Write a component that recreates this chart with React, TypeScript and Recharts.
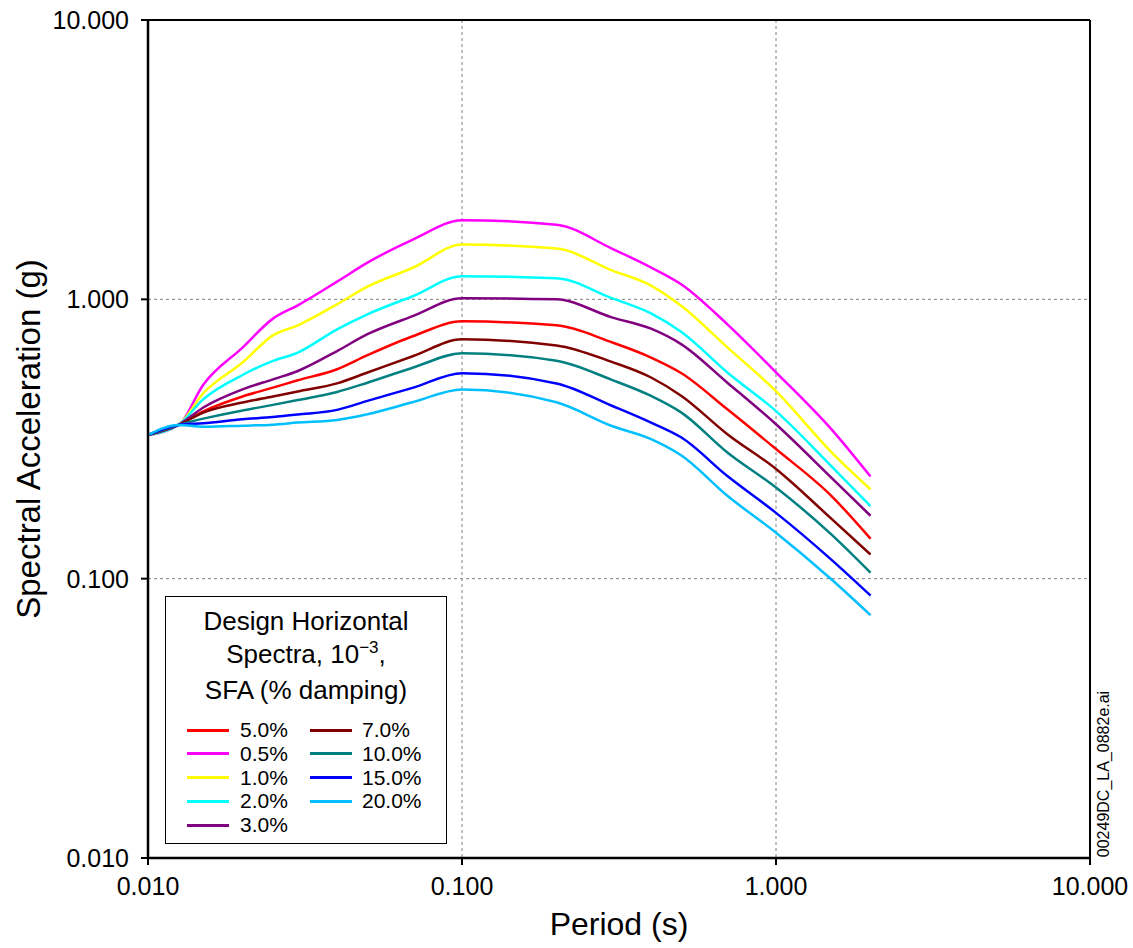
import React from 'react';
import { LineChart, Line, XAxis, YAxis, CartesianGrid, ReferenceLine } from 'recharts';

const periods = [0.01, 0.0125, 0.015, 0.02, 0.025, 0.03, 0.04, 0.05, 0.07, 0.1, 0.2, 0.3, 0.4, 0.5, 0.7, 1.0, 1.5, 2.0];

const damping5_0 = [0.327, 0.355, 0.397, 0.449, 0.483, 0.513, 0.562, 0.631, 0.739, 0.834, 0.807, 0.702, 0.619, 0.544, 0.404, 0.291, 0.198, 0.139];
const damping0_5 = [0.327, 0.354, 0.495, 0.672, 0.853, 0.952, 1.157, 1.353, 1.64, 1.92, 1.85, 1.52, 1.30, 1.13, 0.814, 0.548, 0.343, 0.232];
const damping1_0 = [0.327, 0.355, 0.461, 0.594, 0.743, 0.807, 0.96, 1.11, 1.30, 1.57, 1.52, 1.27, 1.12, 0.946, 0.673, 0.469, 0.284, 0.209];
const damping2_0 = [0.327, 0.355, 0.439, 0.536, 0.602, 0.645, 0.781, 0.884, 1.028, 1.21, 1.19, 1.01, 0.891, 0.764, 0.547, 0.398, 0.253, 0.182];
const damping3_0 = [0.327, 0.355, 0.41, 0.476, 0.517, 0.554, 0.653, 0.75, 0.872, 1.01, 1.0, 0.862, 0.785, 0.69, 0.503, 0.357, 0.23, 0.168];
const damping7_0 = [0.327, 0.355, 0.393, 0.427, 0.449, 0.468, 0.5, 0.547, 0.627, 0.719, 0.684, 0.597, 0.525, 0.451, 0.329, 0.247, 0.164, 0.122];
const damping10_0 = [0.327, 0.355, 0.374, 0.4, 0.419, 0.436, 0.466, 0.503, 0.57, 0.641, 0.603, 0.515, 0.451, 0.393, 0.283, 0.212, 0.144, 0.105];
const damping15_0 = [0.327, 0.355, 0.36, 0.372, 0.379, 0.387, 0.402, 0.433, 0.483, 0.544, 0.5, 0.416, 0.362, 0.32, 0.233, 0.172, 0.117, 0.087];
const damping20_0 = [0.327, 0.355, 0.35, 0.353, 0.356, 0.362, 0.37, 0.388, 0.429, 0.476, 0.428, 0.352, 0.316, 0.276, 0.198, 0.146, 0.0995, 0.074];

const seriesLabels = ['5.0%', '0.5%', '1.0%', '2.0%', '3.0%', '7.0%', '10.0%', '15.0%', '20.0%'];
const seriesColors = ['#FF0000', '#FF00FF', '#FFFF00', '#00FFFF', '#800080', '#800000', '#008080', '#0000FF', '#00BFFF'];
const seriesValues = [damping5_0, damping0_5, damping1_0, damping2_0, damping3_0, damping7_0, damping10_0, damping15_0, damping20_0];

const axisTicks = [0.01, 0.1, 1, 10];

const seriesDefs = seriesLabels.map((label, i) => ({
  key: 's' + i,
  label,
  color: seriesColors[i],
  values: seriesValues[i],
}));

const data = periods.map((p, i) => {
  const row: Record<string, number> = { period: p };
  seriesDefs.forEach((s) => {
    row[s.key] = s.values[i];
  });
  return row;
});

const FONT = '"Liberation Sans", Arial, Helvetica, sans-serif';

function LegendBox() {
  return (
    <div
      style={{
        position: 'absolute',
        left: 165,
        top: 596,
        width: 282,
        height: 248,
        boxSizing: 'border-box',
        border: '1.5px solid #000',
        background: '#fff',
        fontFamily: FONT,
        color: '#000',
      }}
    >
      <div style={{ position: 'absolute', left: 0, right: 0, top: 8, textAlign: 'center', fontSize: 26, lineHeight: '33px' }}>
        <div>Design Horizontal</div>
        <div>
          Spectra, 10<sup style={{ fontSize: 17, verticalAlign: 'baseline', position: 'relative', top: -10 }}>−3</sup>,
        </div>
        <div>SFA (% damping)</div>
      </div>
      {seriesDefs.map((s, i) => {
        const col = i < 5 ? 0 : 1;
        const row = i < 5 ? i : i - 5;
        const cy = 133 + row * 23.75;
        return (
          <React.Fragment key={s.key}>
            <div
              style={{
                position: 'absolute',
                left: 21 + col * 123,
                top: cy - 1.5,
                width: 42,
                height: 3,
                background: s.color,
              }}
            />
            <div
              style={{
                position: 'absolute',
                left: 74 + col * 122,
                top: cy - 12,
                height: 24,
                lineHeight: '24px',
                fontSize: 21,
                whiteSpace: 'nowrap',
              }}
            >
              {s.label}
            </div>
          </React.Fragment>
        );
      })}
    </div>
  );
}

export default function App() {
  return (
    <div style={{ position: 'absolute', left: 0, top: 0, width: 1133, height: 948, background: '#fff', fontFamily: FONT }}>
      <LineChart width={1133} height={948} data={data} margin={{ top: 20, right: 43, bottom: 0, left: 0 }}>
        <CartesianGrid stroke="#808080" strokeDasharray="3 3" strokeWidth={1} />
        <XAxis
          dataKey="period"
          type="number"
          scale="log"
          domain={[0.01, 10]}
          ticks={axisTicks}
          interval={0}
          allowDataOverflow
          height={90}
          tickFormatter={(v: number) => v.toFixed(3)}
          tick={{ fontSize: 25, fill: '#000', fontFamily: FONT }}
          tickSize={7}
          tickMargin={12}
          axisLine={{ stroke: '#000', strokeWidth: 2.5 }}
          tickLine={{ stroke: '#000', strokeWidth: 2 }}
          label={{ value: 'Period (s)', position: 'insideBottom', offset: 13, style: { fontSize: 32, fill: '#000', fontFamily: FONT } }}
        />
        <YAxis
          type="number"
          scale="log"
          domain={[0.01, 10]}
          ticks={axisTicks}
          interval={0}
          allowDataOverflow
          width={148}
          tickFormatter={(v: number) => v.toFixed(3)}
          tick={{ fontSize: 25, fill: '#000', fontFamily: FONT }}
          tickSize={7}
          tickMargin={12}
          axisLine={{ stroke: '#000', strokeWidth: 2.5 }}
          tickLine={{ stroke: '#000', strokeWidth: 2 }}
          label={{
            value: 'Spectral Acceleration (g)',
            angle: -90,
            position: 'insideLeft',
            offset: 28,
            style: { textAnchor: 'middle', fontSize: 33, fill: '#000', fontFamily: FONT },
          }}
        />
        <ReferenceLine y={10} stroke="#000" strokeWidth={2} />
        <ReferenceLine x={10} stroke="#000" strokeWidth={2} />
        {seriesDefs.map((s) => (
          <Line
            key={s.key}
            dataKey={s.key}
            name={s.label}
            type="monotone"
            stroke={s.color}
            strokeWidth={2.5}
            dot={false}
            activeDot={false}
            isAnimationActive={false}
          />
        ))}
      </LineChart>
      <LegendBox />
      <div
        style={{
          position: 'absolute',
          left: 1104,
          top: 774,
          transform: 'translate(-50%, -50%) rotate(-90deg)',
          fontSize: 16,
          whiteSpace: 'nowrap',
          color: '#000',
          fontFamily: FONT,
        }}
      >
        00249DC_LA_0882e.ai
      </div>
    </div>
  );
}
